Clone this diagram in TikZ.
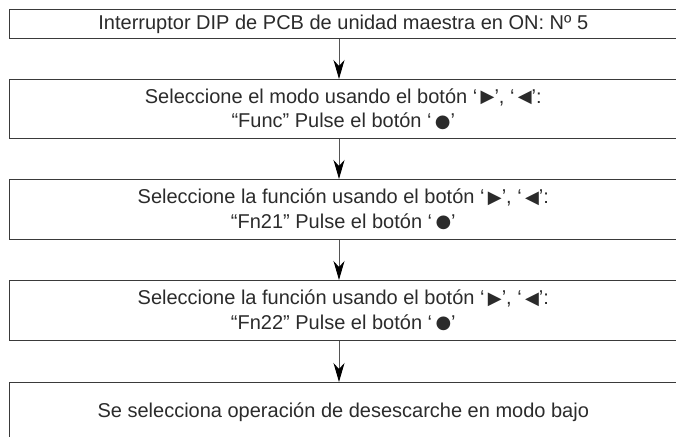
\documentclass[tikz,border=0pt]{standalone}
\usepackage{fontspec}
\setmainfont{Liberation Sans}
\newfontfamily\symf{DejaVu Sans}
\usetikzlibrary{arrows.meta}
\definecolor{ink}{HTML}{2B2B2B}
\definecolor{edge}{HTML}{3A3A3A}
\definecolor{wire}{HTML}{555555}
\newcommand{\rtri}{\,\raisebox{0.5pt}{\symf\fontsize{18}{18}\selectfont ▶}}
\newcommand{\ltri}{\,\raisebox{0.5pt}{\symf\fontsize{18}{18}\selectfont ◀}}
\newcommand{\bdot}{\,\raisebox{0.5pt}{\symf\fontsize{18}{18}\selectfont ●}}
\begin{document}
\begin{tikzpicture}[x=1pt,y=-1pt,
  stepbox/.style={draw=edge, line width=1.1pt, minimum width=668.5pt,
    align=center, font=\fontsize{20}{24.5}\selectfont, text=ink,
    inner sep=0pt, anchor=north west},
  flow/.style={draw=wire, line width=1pt,
    -{Stealth[length=19pt,width=11pt,inset=6pt,fill=black,color=black]}}]
\useasboundingbox (0,0) rectangle (676,436);
\clip (0,0) rectangle (676,436);
\node[stepbox, minimum height=29pt] (b1) at (8.5,9)
  {Interruptor DIP de PCB de unidad maestra en ON: Nº 5};
\node[stepbox, minimum height=59pt] (b2) at (8.5,79)
  {Seleccione el modo usando el botón ‘\rtri’, ‘\ltri’:\\“Func” Pulse el botón ‘\bdot’};
\node[stepbox, minimum height=60pt] (b3) at (8.5,179)
  {Seleccione la función usando el botón ‘\rtri’, ‘\ltri’:\\“Fn21” Pulse el botón ‘\bdot’};
\node[stepbox, minimum height=60pt] (b4) at (8.5,280)
  {Seleccione la función usando el botón ‘\rtri’, ‘\ltri’:\\“Fn22” Pulse el botón ‘\bdot’};
\node[stepbox, minimum height=60pt] (b5) at (8.5,382)
  {Se selecciona operación de desescarche en modo bajo};
\coordinate (ax) at (339,0);
\draw[flow] (b1.south -| ax) -- (b2.north -| ax);
\draw[flow] (b2.south -| ax) -- (b3.north -| ax);
\draw[flow] (b3.south -| ax) -- (b4.north -| ax);
\draw[flow] (b4.south -| ax) -- (b5.north -| ax);
\end{tikzpicture}
\end{document}
